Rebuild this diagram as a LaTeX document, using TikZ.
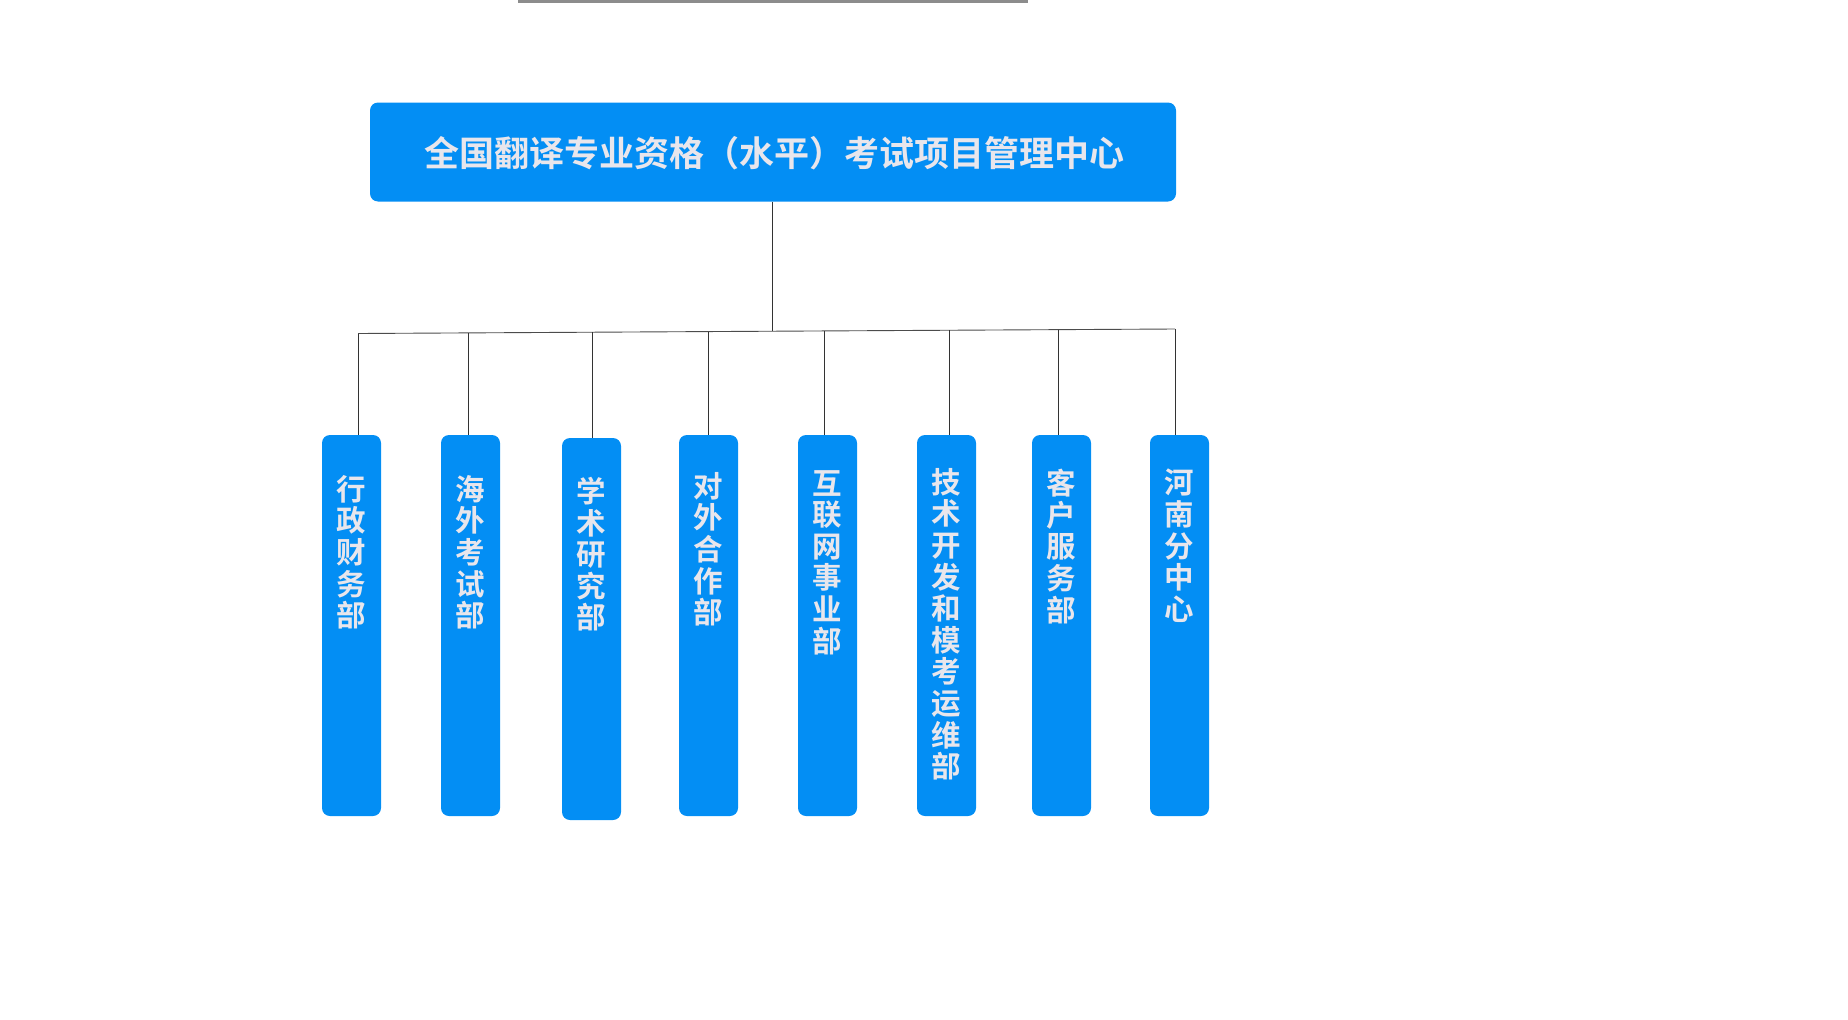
\documentclass[tikz,border=0pt]{standalone}
\usepackage{fontspec}
\newfontfamily\cjk{Noto Sans CJK SC}[BoldFont={Noto Sans CJK SC Bold}]
\definecolor{boxblue}{RGB}{3,142,244}
\definecolor{txtgray}{RGB}{232,230,236}
\definecolor{bargray}{RGB}{140,140,140}
\tikzset{
  headbox/.style={fill=boxblue, rounded corners=8pt, minimum width=806pt, minimum height=99pt, inner sep=0pt, draw=none},
  deptbox/.style={fill=boxblue, rounded corners=8pt, minimum width=59pt, inner sep=0pt, draw=none},
  vtext/.style={anchor=north, inner sep=0pt, align=center, text=txtgray, font=\cjk\bfseries\fontsize{29.5pt}{31.6pt}\selectfont},
  conn/.style={draw=black!80, line width=0.9pt}
}
\begin{document}
\begin{tikzpicture}[x=1pt,y=-1pt]
\useasboundingbox (0,0) rectangle (1848,1020);
\fill[bargray] (518,0) rectangle (1028,3);
\node[headbox] (head) at (773,152) {};
\node[text=txtgray, font=\cjk\bfseries\fontsize{35pt}{38pt}\selectfont, inner sep=0pt] (title) at (774,153) {全国翻译专业资格（水平）考试项目管理中心};
% boxes
\node[deptbox, minimum height=381pt] (b1) at (351.5,625.5) {};
\node[deptbox, minimum height=381pt] (b2) at (470.5,625.5) {};
\node[deptbox, minimum height=382pt] (b3) at (591.5,629) {};
\node[deptbox, minimum height=381pt] (b4) at (708.5,625.5) {};
\node[deptbox, minimum height=381pt] (b5) at (827.5,625.5) {};
\node[deptbox, minimum height=381pt] (b6) at (946.5,625.5) {};
\node[deptbox, minimum height=381pt] (b7) at (1061.5,625.5) {};
\node[deptbox, minimum height=381pt] (b8) at (1179.5,625.5) {};
% texts
\node[vtext] (t1) at (351.5,475) {行\\政\\财\\务\\部};
\node[vtext] (t2) at (470.5,475) {海\\外\\考\\试\\部};
\node[vtext] (t3) at (591.5,477) {学\\术\\研\\究\\部};
\node[vtext] (t4) at (708.5,472) {对\\外\\合\\作\\部};
\node[vtext] (t5) at (827.5,470) {互\\联\\网\\事\\业\\部};
\node[vtext] (t6) at (946.5,468) {技\\术\\开\\发\\和\\模\\考\\运\\维\\部};
\node[vtext] (t7) at (1061.5,469) {客\\户\\服\\务\\部};
\node[vtext] (t8) at (1179.5,469) {河\\南\\分\\中\\心};
% bus coordinates
\coordinate (busL) at (358,333.5);
\coordinate (busR) at (1175,329);
\coordinate (hc) at (772,331.2);
\coordinate (d1) at (358,333.5);
\coordinate (d2) at (468,332.9);
\coordinate (d3) at (592,332.2);
\coordinate (d4) at (708,331.6);
\coordinate (d5) at (824,330.9);
\coordinate (d6) at (949,330.2);
\coordinate (d7) at (1058,329.6);
\coordinate (d8) at (1175,329);
\draw[conn] (head.south -| hc) -- (hc);
\draw[conn, draw=black!70] (busL) -- (busR);
\draw[conn] (d1) -- (d1 |- b1.north);
\draw[conn] (d2) -- (d2 |- b2.north);
\draw[conn] (d3) -- (d3 |- b3.north);
\draw[conn] (d4) -- (d4 |- b4.north);
\draw[conn] (d5) -- (d5 |- b5.north);
\draw[conn] (d6) -- (d6 |- b6.north);
\draw[conn] (d7) -- (d7 |- b7.north);
\draw[conn] (d8) -- (d8 |- b8.north);
\end{tikzpicture}
\end{document}
